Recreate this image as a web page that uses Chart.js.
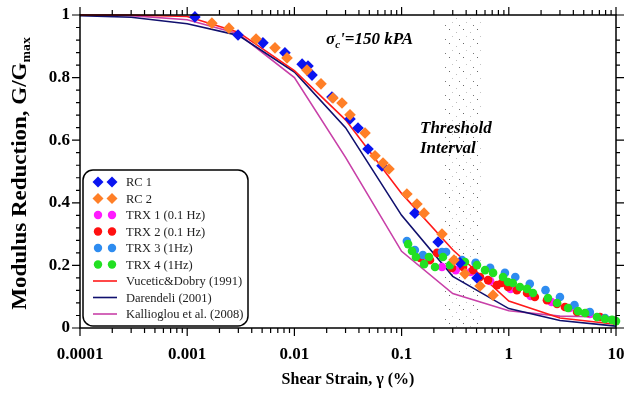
<!DOCTYPE html>
<html>
<head>
<meta charset="utf-8">
<script src="https://cdn.jsdelivr.net/npm/chart.js@4.4.1/dist/chart.umd.min.js"></script>
<style>
html, body { margin: 0; padding: 0; background: #fff; }
</style>
</head>
<body>
<canvas id="modulusChart" width="627" height="405"></canvas>
<script>
// 軸の目盛り
const xTickValues = [0.0001, 0.001, 0.01, 0.1, 1, 10];
const xTickLabels = ['0.0001', '0.001', '0.01', '0.1', '1', '10'];
const yTickValues = [0, 0.2, 0.4, 0.6, 0.8, 1];
const yTickLabels = ['0', '0.2', '0.4', '0.6', '0.8', '1'];

// しきい値の範囲 (ひずみ %)
const thresholdRange = [0.25, 0.55];

// RC試験
const rc1Strain = [0.00118, 0.00298, 0.00509, 0.00816, 0.0118, 0.0134, 0.0146, 0.0224, 0.0330, 0.0392, 0.0486, 0.0656, 0.133, 0.219, 0.351, 0.505];
const rc1G = [0.994, 0.936, 0.911, 0.879, 0.843, 0.837, 0.808, 0.738, 0.668, 0.639, 0.572, 0.518, 0.367, 0.275, 0.208, 0.160];
const rc2Strain = [0.0017, 0.00245, 0.00439, 0.00659, 0.00853, 0.0131, 0.0177, 0.0229, 0.0278, 0.0330, 0.0456, 0.0565, 0.0671, 0.0763, 0.112, 0.139, 0.162, 0.238, 0.308, 0.390, 0.539, 0.713];
const rc2G = [0.974, 0.958, 0.923, 0.895, 0.863, 0.824, 0.780, 0.735, 0.719, 0.681, 0.623, 0.550, 0.527, 0.508, 0.428, 0.396, 0.367, 0.300, 0.217, 0.173, 0.134, 0.105];

// 三軸試験
const trx1Strain = [0.165, 0.238, 0.32, 0.44, 0.67, 1.04, 1.6, 2.5, 3.7, 5.7];
const trx1G = [0.211, 0.195, 0.185, 0.179, 0.150, 0.125, 0.102, 0.083, 0.064, 0.045];
const trx2Strain = [0.149, 0.184, 0.214, 0.295, 0.374, 0.464, 0.539, 0.640, 0.776, 0.86, 0.984, 1.19, 1.48, 1.75, 2.27, 2.82, 3.34, 4.33, 5.36, 7.10];
const trx2G = [0.224, 0.217, 0.240, 0.192, 0.195, 0.185, 0.163, 0.153, 0.137, 0.144, 0.131, 0.121, 0.112, 0.099, 0.089, 0.077, 0.067, 0.051, 0.048, 0.035];
const trx3Strain = [0.112, 0.133, 0.158, 0.238, 0.26, 0.366, 0.49, 0.67, 0.92, 1.15, 1.57, 2.2, 3.0, 4.1, 5.7, 7.9];
const trx3G = [0.278, 0.249, 0.233, 0.243, 0.243, 0.217, 0.208, 0.192, 0.176, 0.163, 0.141, 0.121, 0.099, 0.073, 0.051, 0.032];
const trx4Strain = [0.115, 0.125, 0.136, 0.162, 0.180, 0.205, 0.243, 0.283, 0.390, 0.505, 0.600, 0.713, 0.883, 0.984, 1.09, 1.27, 1.48, 1.68, 2.32, 2.82, 3.57, 4.42, 5.14, 6.65, 7.89, 9.18, 10];
const trx4G = [0.268, 0.246, 0.227, 0.204, 0.227, 0.195, 0.227, 0.201, 0.211, 0.201, 0.185, 0.176, 0.163, 0.147, 0.144, 0.131, 0.125, 0.112, 0.096, 0.080, 0.064, 0.054, 0.048, 0.035, 0.029, 0.026, 0.022];

// 文献の曲線
const curveStrain = [0.0001, 0.0003, 0.001, 0.003, 0.01, 0.03, 0.1, 0.3, 1, 3, 10];
const vuceticG = [1.0, 1.0, 0.995, 0.945, 0.822, 0.665, 0.43, 0.25, 0.086, 0.032, 0.012];
const darendeliG = [0.998, 0.993, 0.972, 0.935, 0.818, 0.64, 0.36, 0.165, 0.062, 0.024, 0.006];
const kallioglouG = [1.0, 0.998, 0.985, 0.94, 0.80, 0.545, 0.245, 0.11, 0.055, 0.038, 0.035];

const serif = "'Liberation Serif', 'Times New Roman', serif";

function toPoints(xs, ys) {
    return xs.map((x, i) => ({ x: x, y: ys[i] }));
}

function pointSet(label, xs, ys, color, style, radius, order) {
    return {
        label: label,
        data: toPoints(xs, ys),
        backgroundColor: color,
        borderColor: color,
        borderWidth: 0,
        pointStyle: style,
        pointRadius: radius,
        showLine: false,
        order: order,
        clip: 6
    };
}

function lineSet(label, ys, color, order) {
    return {
        label: label,
        data: toPoints(curveStrain, ys),
        borderColor: color,
        backgroundColor: color,
        borderWidth: 1.6,
        pointRadius: 0,
        showLine: true,
        tension: 0,
        order: order,
        clip: 4
    };
}

// 点描パターン
function makeStipple() {
    const c = document.createElement('canvas');
    c.width = 14;
    c.height = 14;
    const g = c.getContext('2d');
    const dots = [[1, 1, '#666'], [8, 4, '#bbb'], [4, 8, '#c4c4c4'], [11, 11, '#777']];
    dots.forEach(p => {
        g.fillStyle = p[2];
        g.fillRect(p[0], p[1], 1, 1);
    });
    return c;
}

const framePlugin = {
    id: 'frame',
    beforeDatasetsDraw(chart) {
        const { ctx, chartArea, scales } = chart;
        const x0 = scales.x.getPixelForValue(thresholdRange[0]);
        const x1 = scales.x.getPixelForValue(thresholdRange[1]);
        ctx.save();
        ctx.fillStyle = ctx.createPattern(makeStipple(), 'repeat');
        ctx.fillRect(x0, chartArea.top + 3, x1 - x0, chartArea.bottom - chartArea.top - 3);
        ctx.restore();
    },
    afterDraw(chart) {
        const { ctx, chartArea, scales } = chart;
        const { left, right, top, bottom } = chartArea;
        ctx.save();
        ctx.strokeStyle = '#000';
        ctx.lineWidth = 1.5;
        ctx.strokeRect(left, top, right - left, bottom - top);

        // 目盛り線
        ctx.lineWidth = 1.2;
        ctx.beginPath();
        for (let d = -4; d < 1; d++) {
            for (let k = 1; k <= 10; k++) {
                const v = k * Math.pow(10, d);
                const px = scales.x.getPixelForValue(v);
                const len = (k === 1 || k === 10) ? 8 : 5;
                ctx.moveTo(px, bottom);
                ctx.lineTo(px, bottom + len);
                ctx.moveTo(px, top);
                ctx.lineTo(px, top - len);
            }
        }
        for (let i = 0; i <= 25; i++) {
            const v = i * 0.04;
            const py = scales.y.getPixelForValue(v);
            const len = (i % 5 === 0) ? 8 : 4;
            ctx.moveTo(left, py);
            ctx.lineTo(left - len, py);
            ctx.moveTo(right, py);
            ctx.lineTo(right + len, py);
        }
        ctx.stroke();

        // 縦軸タイトル (縦に少し引き伸ばす)
        ctx.fillStyle = '#000';
        ctx.translate(19, (top + bottom) / 2 + 2);
        ctx.rotate(-Math.PI / 2);
        ctx.scale(1.15, 1);
        ctx.font = 'bold 20px ' + serif;
        const mainText = 'Modulus Reduction, G/G';
        const wMain = ctx.measureText(mainText).width;
        ctx.font = 'bold 12px ' + serif;
        const wSub = ctx.measureText('max').width;
        const start = -(wMain + wSub) / 2;
        ctx.textBaseline = 'alphabetic';
        ctx.font = 'bold 20px ' + serif;
        ctx.fillText(mainText, start, 7);
        ctx.font = 'bold 12px ' + serif;
        ctx.fillText('max', start + wMain, 11);
        ctx.setTransform(1, 0, 0, 1, 0, 0);

        // 注記
        ctx.font = 'bold italic 17px ' + serif;
        ctx.fillText('\u03c3', 326, 44);
        let w = ctx.measureText('\u03c3').width;
        ctx.font = 'bold italic 11px ' + serif;
        ctx.fillText('c', 326 + w, 48);
        const wc = ctx.measureText('c').width;
        ctx.font = 'bold italic 17px ' + serif;
        ctx.fillText("'=150 kPA", 326 + w + wc, 44);
        ctx.fillText('Threshold', 420, 133);
        ctx.fillText('Interval', 420, 153);

        drawLegend(chart);
        ctx.restore();
    }
};

function drawLegend(chart) {
    const ctx = chart.ctx;
    const bx = 83, by = 170, bw = 165, bh = 156, r = 10;
    ctx.save();
    ctx.fillStyle = '#fff';
    ctx.strokeStyle = '#000';
    ctx.lineWidth = 1.5;
    ctx.beginPath();
    ctx.roundRect(bx, by, bw, bh, r);
    ctx.fill();
    ctx.stroke();

    ctx.font = '12.5px ' + serif;
    ctx.textBaseline = 'middle';
    chart.data.datasets.forEach((ds, i) => {
        const y = 182 + i * 16.5;
        if (ds.showLine) {
            ctx.strokeStyle = ds.borderColor;
            ctx.lineWidth = 1.6;
            ctx.beginPath();
            ctx.moveTo(93, y);
            ctx.lineTo(117, y);
            ctx.stroke();
        } else {
            ctx.fillStyle = ds.backgroundColor;
            [98, 112].forEach(cx => {
                ctx.beginPath();
                if (ds.pointStyle === 'rectRot') {
                    const s = 5.5;
                    ctx.moveTo(cx, y - s);
                    ctx.lineTo(cx + s, y);
                    ctx.lineTo(cx, y + s);
                    ctx.lineTo(cx - s, y);
                    ctx.closePath();
                } else {
                    ctx.arc(cx, y, 4.2, 0, Math.PI * 2);
                }
                ctx.fill();
            });
        }
        ctx.fillStyle = '#222';
        ctx.fillText(ds.label, 126, y + 1);
    });
    ctx.restore();
}

const ctx = document.getElementById('modulusChart').getContext('2d');
const modulusChart = new Chart(ctx, {
    type: 'scatter',
    data: {
        datasets: [
            pointSet('RC 1', rc1Strain, rc1G, '#0a14f0', 'rectRot', 5.8, 1),
            pointSet('RC 2', rc2Strain, rc2G, '#ff7f27', 'rectRot', 5.8, 0),
            pointSet('TRX 1 (0.1 Hz)', trx1Strain, trx1G, '#ff1aff', 'circle', 4.3, 5),
            pointSet('TRX 2 (0.1 Hz)', trx2Strain, trx2G, '#ff1010', 'circle', 4.3, 4),
            pointSet('TRX 3 (1Hz)', trx3Strain, trx3G, '#2e8cf0', 'circle', 4.3, 3),
            pointSet('TRX 4 (1Hz)', trx4Strain, trx4G, '#22e022', 'circle', 4.3, 2),
            lineSet('Vucetic&Dobry (1991)', vuceticG, '#ff1a1a', 6),
            lineSet('Darendeli (2001)', darendeliG, '#10106e', 7),
            lineSet('Kallioglou et al. (2008)', kallioglouG, '#c840a8', 8)
        ]
    },
    options: {
        responsive: false,
        animation: false,
        devicePixelRatio: 1,
        layout: { padding: { top: 15, right: 11, left: 0, bottom: 0 } },
        plugins: {
            legend: { display: false },
            tooltip: { enabled: false }
        },
        scales: {
            x: {
                type: 'logarithmic',
                position: 'bottom',
                min: 0.0001,
                max: 10,
                afterFit: s => { s.height = 77; s.paddingLeft = 0; s.paddingRight = 0; },
                afterBuildTicks: s => { s.ticks = xTickValues.map(v => ({ value: v })); },
                grid: { display: false, drawTicks: false },
                border: { display: false },
                ticks: {
                    autoSkip: false,
                    maxRotation: 0,
                    padding: 16,
                    color: '#000',
                    font: { family: serif, size: 17, weight: 'bold' },
                    callback: (v) => {
                        const i = xTickValues.findIndex(t => Math.abs(Math.log10(t) - Math.log10(v)) < 1e-6);
                        return i >= 0 ? xTickLabels[i] : '';
                    }
                },
                title: {
                    display: true,
                    text: 'Shear Strain, \u03b3 (%)',
                    color: '#000',
                    font: { family: serif, size: 16, weight: 'bold' },
                    padding: { top: 0, bottom: 16 }
                }
            },
            y: {
                min: 0,
                max: 1,
                afterFit: s => { s.width = 80; s.paddingTop = 0; s.paddingBottom = 0; },
                afterBuildTicks: s => { s.ticks = yTickValues.map(v => ({ value: v })); },
                grid: { display: false, drawTicks: false },
                border: { display: false },
                ticks: {
                    padding: 10,
                    color: '#000',
                    font: { family: serif, size: 17, weight: 'bold' },
                    callback: (v) => {
                        const i = yTickValues.findIndex(t => Math.abs(t - v) < 1e-6);
                        return i >= 0 ? yTickLabels[i] : '';
                    }
                }
            }
        }
    },
    plugins: [framePlugin]
});
</script>
</body>
</html>
